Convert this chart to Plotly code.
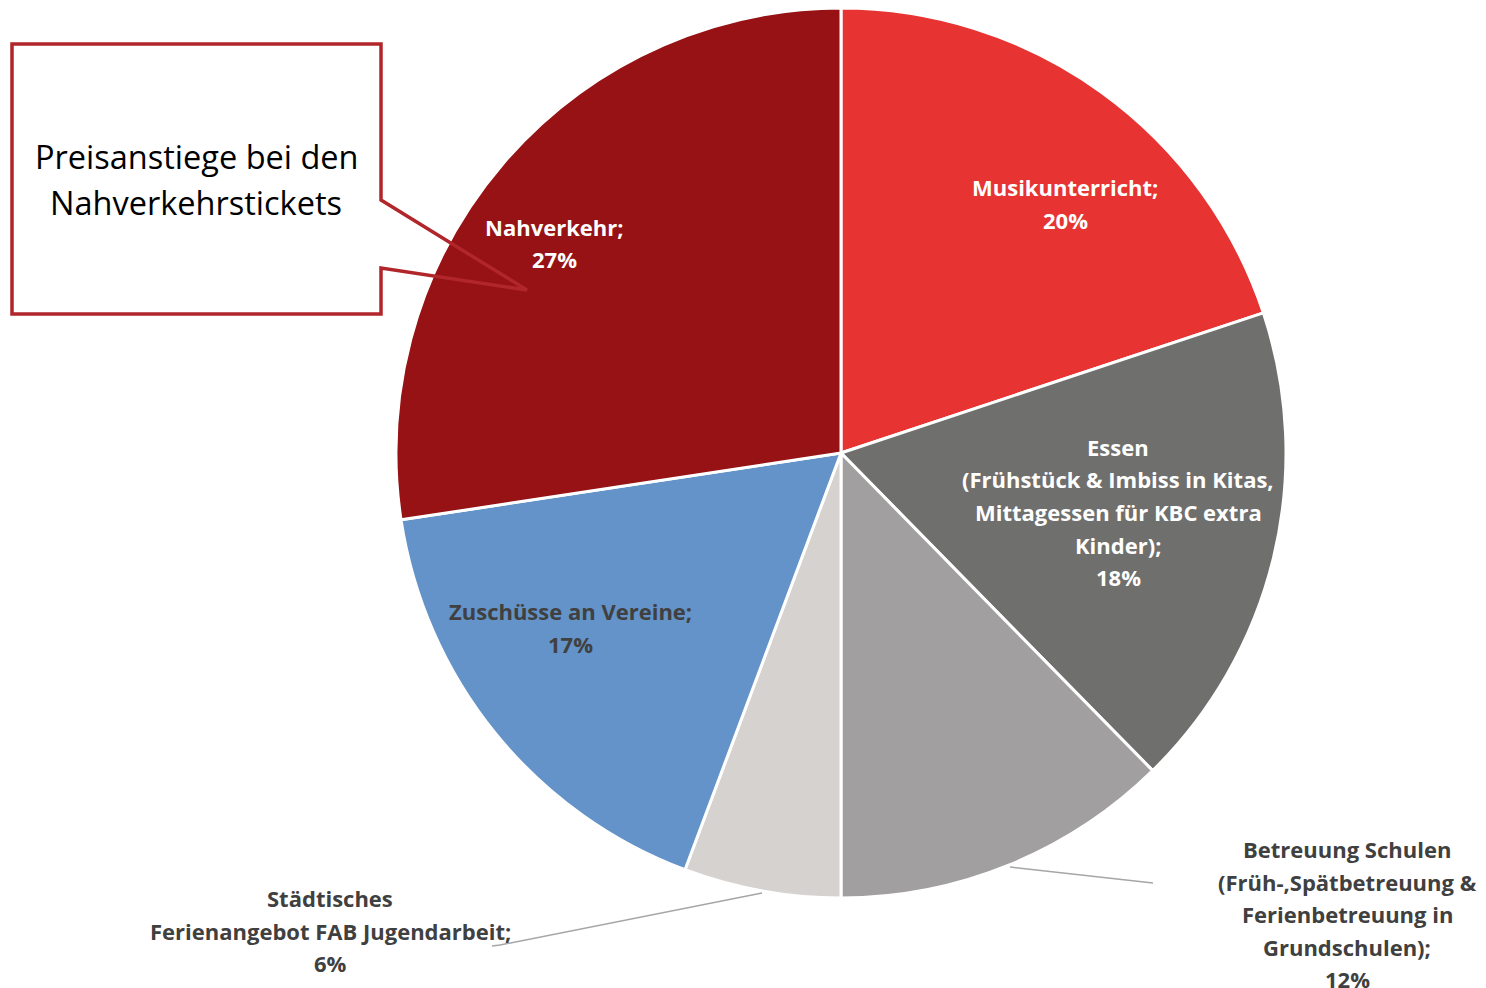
import plotly.graph_objects as go

# ---- data ----
categories = [
    "Musikunterricht",
    "Essen (Frühstück & Imbiss in Kitas, Mittagessen für KBC extra Kinder)",
    "Betreuung Schulen (Früh-,Spätbetreuung & Ferienbetreuung in Grundschulen)",
    "Städtisches Ferienangebot FAB Jugendarbeit",
    "Zuschüsse an Vereine",
    "Nahverkehr",
]
values = [19.9, 17.75, 12.35, 5.7, 16.9, 27.4]
colors = ["#E73331", "#6F6F6D", "#A19F9F", "#D6D2CF", "#6393C8", "#961214"]

label_names = [
    ["Musikunterricht;"],
    ["Essen", "(Frühstück & Imbiss in Kitas,", "Mittagessen für KBC extra", "Kinder);"],
    ["Betreuung Schulen", "(Früh-,Spätbetreuung &", "Ferienbetreuung in", "Grundschulen);"],
    ["Städtisches", "Ferienangebot FAB Jugendarbeit;"],
    ["Zuschüsse an Vereine;"],
    ["Nahverkehr;"],
]
label_colors = ["white", "white", "#404040", "#404040", "#404040", "white"]
# label anchor (centre x, first line y) in pixels
label_pos = [(1065, 187), (1118, 447), (1347, 849), (330, 898), (570, 611), (554, 227)]

callout_text = ["Preisanstiege bei den", "Nahverkehrstickets"]

W, H = 1486, 988
LINE = 32.5


def px(x):
    return x / W


def py(y):
    return 1 - y / H


total = sum(values)
percents = ["%d%%" % round(v / total * 100) for v in values]

fig = go.Figure()
fig.add_trace(go.Pie(
    labels=categories,
    values=values,
    sort=False,
    direction="clockwise",
    rotation=0,
    marker=dict(colors=colors, line=dict(color="white", width=3)),
    textinfo="none",
    hoverinfo="label+percent",
    showlegend=False,
    domain=dict(x=[px(396), px(1286)], y=[py(898), py(8)]),
))

annotations = []
for names, pct, col, (cx, cy) in zip(label_names, percents, label_colors, label_pos):
    lines = names + [pct]
    for i, t in enumerate(lines):
        annotations.append(dict(
            x=px(cx), y=py(cy + i * LINE), xref="paper", yref="paper",
            text="<b>%s</b>" % t, showarrow=False, xanchor="center", yanchor="middle",
            font=dict(family="Open Sans, sans-serif", size=22, color=col),
        ))

for i, t in enumerate(callout_text):
    annotations.append(dict(
        x=px(196), y=py(157 + i * 45), xref="paper", yref="paper",
        text=t, showarrow=False, xanchor="center", yanchor="middle",
        font=dict(family="Open Sans, sans-serif", size=32.5, color="black"),
    ))

shapes = []
# leader lines
shapes.append(dict(type="path", xref="paper", yref="paper",
                   path="M %f %f L %f %f" % (px(1010), py(867), px(1153), py(883)),
                   line=dict(color="#A6A6A6", width=1.5)))
shapes.append(dict(type="path", xref="paper", yref="paper",
                   path="M %f %f L %f %f L %f %f" % (px(762), py(893), px(500), py(945), px(492), py(946)),
                   line=dict(color="#A6A6A6", width=1.5)))
# callout box
pts = [(12, 44), (381, 44), (381, 200), (527, 290), (381, 268), (381, 314), (12, 314)]
path = "M " + " L ".join("%f %f" % (px(x), py(y)) for x, y in pts) + " Z"
shapes.append(dict(type="path", xref="paper", yref="paper", path=path,
                   line=dict(color="#B1262A", width=3.5), fillcolor="rgba(0,0,0,0)"))

fig.update_layout(
    width=W, height=H,
    margin=dict(l=0, r=0, t=0, b=0),
    paper_bgcolor="white", plot_bgcolor="white",
    annotations=annotations, shapes=shapes,
)

fig.write_html(
    "out.html",
    config={"displayModeBar": False},
    post_script="document.body.style.margin='0';document.body.style.overflow='hidden';",
)
